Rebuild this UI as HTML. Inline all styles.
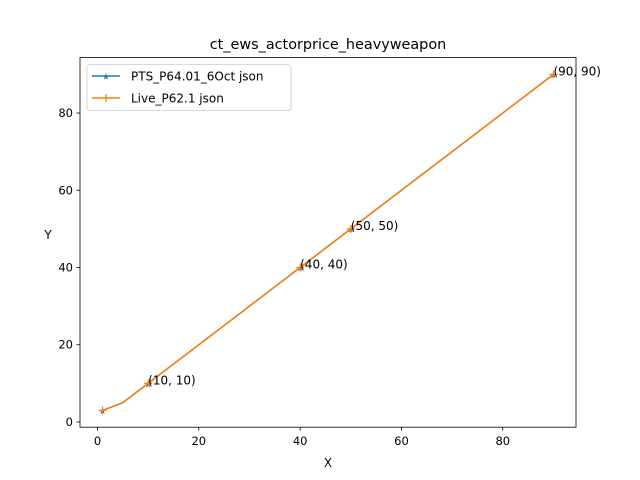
<!DOCTYPE html>
<html><head><meta charset="utf-8"><style>
body{margin:0;background:#fff}
svg{display:block;font-family:"DejaVu Sans","Liberation Sans",sans-serif}
</style></head><body>
<svg id="chart" width="640" height="480">
<rect width="640" height="480" fill="#fff"/>
<text x="328" y="49" text-anchor="middle" font-size="14.4">ct_ews_actorprice_heavyweapon</text>
<g id="ticks"></g>
<g id="series"></g>
<rect x="80" y="57.6" width="496" height="369.6" fill="none" stroke="#000" stroke-width="0.8"/>
<text x="328" y="467" text-anchor="middle" font-size="12">X</text>
<text x="48" y="239" text-anchor="middle" font-size="12">Y</text>
<g>
<rect x="87" y="64.6" width="204" height="46" rx="3" fill="#fff" stroke="#ccc" stroke-width="0.8"/>
<g>
<line x1="92" y1="76" x2="120" y2="76" stroke="#1f77b4" stroke-width="1.5"/>
<text x="106" y="79.5" text-anchor="middle" font-size="9" fill="#1f77b4">★</text>
<text x="131" y="80.5" font-size="12">PTS_P64.01_6Oct json</text></g>
<g>
<line x1="92" y1="98" x2="120" y2="98" stroke="#ff7f0e" stroke-width="1.5"/>
<path d="M106 94v8M102 98h8" stroke="#ff7f0e" stroke-width="1.2"/>
<text x="131" y="102.5" font-size="12">Live_P62.1 json</text></g>
</g>
</svg>
<script>
const xValues=[1,5,10,40,50,90];
const ptsValues=[3,5,10,40,50,90];
const liveValues=[3,5,10,40,50,90];
const markedX=[1,10,40,50,90];
const annotated=[10,40,50,90];
const xTicks=[0,20,40,60,80];
const yTicks=[0,20,40,60,80];
const NS="http://www.w3.org/2000/svg";
const L=80,R=576,T=57.6,B=427.2;
const allY=ptsValues.concat(liveValues);
const xmn=Math.min(...xValues),xmx=Math.max(...xValues),xm=(xmx-xmn)*0.05;
const ymn=Math.min(...allY),ymx=Math.max(...allY),ym=(ymx-ymn)*0.05;
const sx=v=>L+(v-(xmn-xm))/((xmx+xm)-(xmn-xm))*(R-L);
const sy=v=>B-(v-(ymn-ym))/((ymx+ym)-(ymn-ym))*(B-T);
function mk(tag,attrs,parent,txt){const e=document.createElementNS(NS,tag);for(const k in attrs)e.setAttribute(k,attrs[k]);if(txt!=null)e.textContent=txt;parent.appendChild(e);return e;}
const tg=document.getElementById('ticks');
xTicks.forEach(t=>{const x=sx(t);
const l=mk('line',{x1:x,x2:x,y1:B,y2:B+3.5,stroke:'#000','stroke-width':0.8},tg);


const s=mk('text',{x:x,y:B+18,'text-anchor':'middle','font-size':11.5},tg,t);

});
yTicks.forEach(t=>{const y=sy(t);
const l=mk('line',{x1:L-3.5,x2:L,y1:y,y2:y,stroke:'#000','stroke-width':0.8},tg);


const s=mk('text',{x:L-7,y:y+4,'text-anchor':'end','font-size':11.5},tg,t);

});
const sg=document.getElementById('series');
function series(vals,color,name,marker){
const p=mk('polyline',{points:xValues.map((x,i)=>sx(x)+','+sy(vals[i])).join(' '),fill:'none',stroke:color,'stroke-width':1.5},sg);


xValues.forEach((x,i)=>{if(markedX.indexOf(x)<0)return;const cx=sx(x),cy=sy(vals[i]);let m;
if(marker==='star'){m=mk('text',{x:cx,y:cy+3.5,'text-anchor':'middle','font-size':9,fill:color},sg,'★');}
else{m=mk('path',{d:`M${cx} ${cy-4}v8M${cx-4} ${cy}h8`,stroke:color,'stroke-width':1.2},sg);}

});}
series(ptsValues,'#1f77b4','pts-series','star');
series(liveValues,'#ff7f0e','live-series','plus');
xValues.forEach((x,i)=>{if(annotated.indexOf(x)<0)return;
const a=mk('text',{x:sx(x),y:sy(liveValues[i])+1,'font-size':12},sg,'('+x+', '+liveValues[i]+')');

});
</script>
</body></html>
